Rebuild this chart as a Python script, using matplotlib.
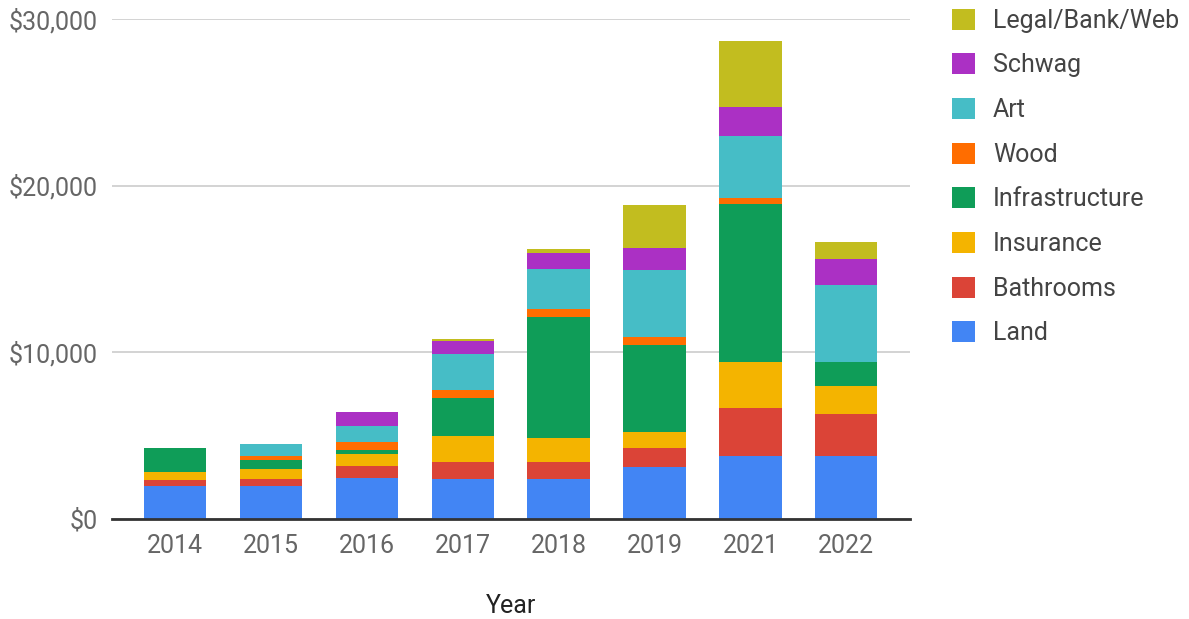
import matplotlib.pyplot as plt
import numpy as np
from matplotlib.patches import Patch
from matplotlib.ticker import FuncFormatter

plt.rcParams['font.family'] = ['Roboto', 'DejaVu Sans']

# ---- data ----
years = ['2014', '2015', '2016', '2017', '2018', '2019', '2021', '2022']
series = ['Land', 'Bathrooms', 'Insurance', 'Infrastructure', 'Wood', 'Art', 'Schwag', 'Legal/Bank/Web']
land = [1950, 1950, 2450, 2420, 2420, 3140, 3780, 3780]
bathrooms = [400, 470, 720, 1000, 1000, 1100, 2900, 2520]
insurance = [450, 600, 700, 1560, 1440, 980, 2760, 1680]
infrastructure = [1450, 500, 280, 2300, 7260, 5200, 9460, 1460]
wood = [0, 260, 480, 480, 480, 480, 360, 0]
art = [0, 720, 960, 2160, 2400, 4020, 3720, 4600]
schwag = [0, 0, 840, 740, 980, 1320, 1720, 1580]
legal = [0, 0, 0, 120, 220, 2620, 3980, 980]
colors = ['#4285F4', '#DB4437', '#F4B400', '#0F9D58', '#FF6D00', '#46BDC6', '#AB30C4', '#C2BD1F']

values = [land, bathrooms, insurance, infrastructure, wood, art, schwag, legal]

fig = plt.figure(figsize=(11.89, 6.19), dpi=100)
ax = fig.add_axes([0.094, 0.1616, 0.671, 0.8077])

x = np.arange(len(years))
bottom = np.zeros(len(years))
for name, vals, c in zip(series, values, colors):
    ax.bar(x, vals, width=0.65, bottom=bottom, color=c, label=name, zorder=3)
    bottom += np.array(vals)

ax.set_xlim(-0.66, len(years) - 1 + 0.66)
ax.set_ylim(0, 30000)
ax.set_yticks([0, 10000, 20000, 30000])
ax.yaxis.set_major_formatter(FuncFormatter(lambda v, p: '${:,.0f}'.format(v)))
ax.set_xticks(x)
ax.set_xticklabels(years)
ax.grid(axis='y', color='#cccccc', linewidth=1.2, zorder=0)
for s in ['top', 'right', 'left']:
    ax.spines[s].set_visible(False)
ax.spines['bottom'].set_color('#333333')
ax.spines['bottom'].set_linewidth(2)
ax.spines['bottom'].set_zorder(4)
ax.tick_params(axis='both', length=0, labelsize=18, labelcolor='#666666')
ax.tick_params(axis='y', pad=10)
ax.tick_params(axis='x', pad=11)
ax.set_xlabel('Year', fontsize=18, color='#222222', labelpad=26)

handles = [Patch(facecolor=c, label=n) for n, c in zip(series, colors)][::-1]
fig.legend(handles=handles, loc='upper left', bbox_to_anchor=(0.8007, 0.986),
           frameon=False, fontsize=18, handlelength=0.92, handleheight=0.92,
           handletextpad=0.72, labelspacing=0.82, borderaxespad=0, borderpad=0,
           labelcolor='#444444')

fig.savefig('out.png', dpi=100)
